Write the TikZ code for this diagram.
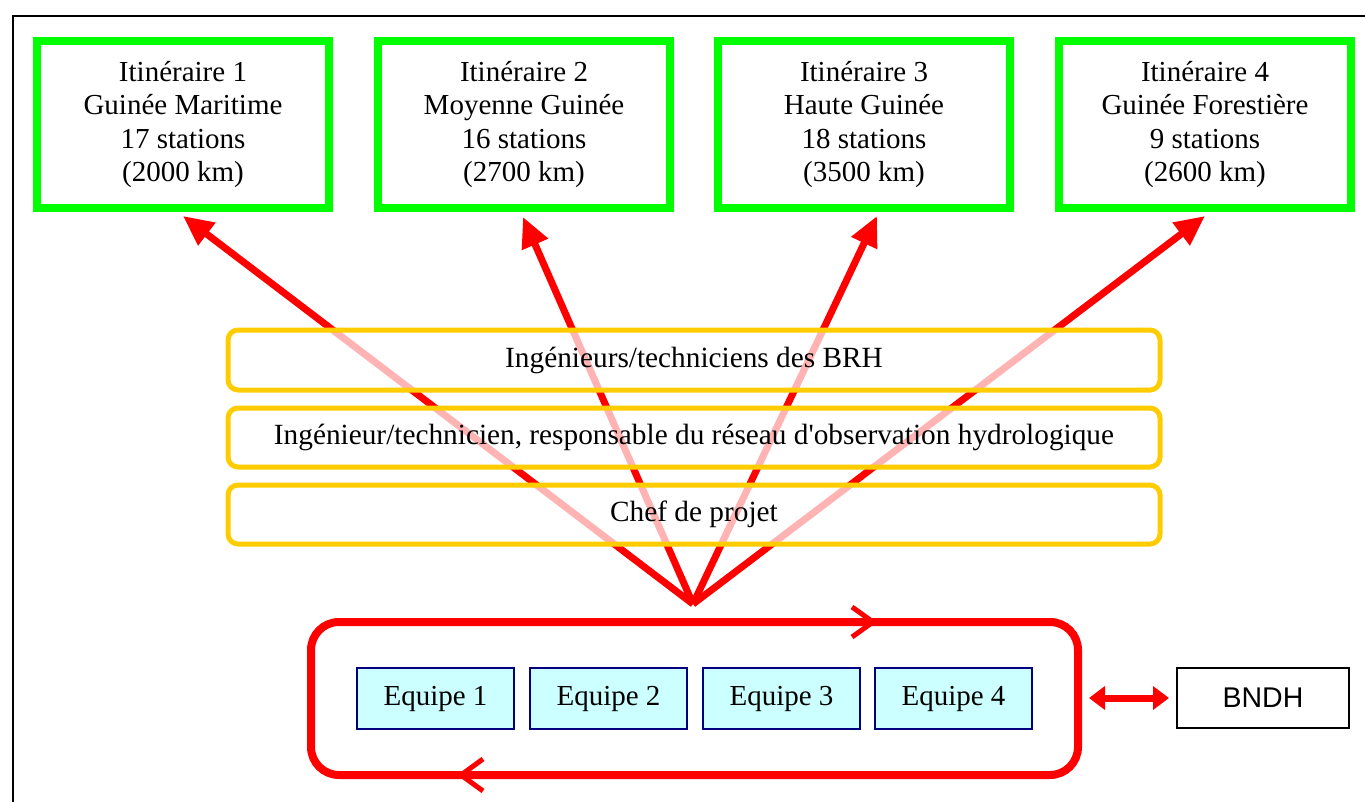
\documentclass[tikz,border=0pt]{standalone}
\usepackage{fontspec}
\setmainfont{Liberation Serif}
\newfontfamily\arialf{Liberation Sans}
\usetikzlibrary{arrows.meta}
\definecolor{vgreen}{RGB}{0,255,0}
\definecolor{vyellow}{RGB}{255,204,0}
\definecolor{vred}{RGB}{255,0,0}
\definecolor{vcyan}{RGB}{204,255,255}
\definecolor{vnavy}{RGB}{0,0,128}
\tikzset{
  itin/.style={draw=vgreen, line width=8pt, minimum width=292pt, minimum height=167pt, inner sep=0pt, align=center, font=\fontsize{29}{33.5}\selectfont},
  role/.style={draw=vyellow, line width=5pt, rounded corners=10pt, fill=white, fill opacity=0.7, text opacity=1, minimum width=932pt, inner sep=0pt, font=\fontsize{29.3}{33}\selectfont},
  team/.style={draw=vnavy, fill=vcyan, line width=2pt, minimum width=157pt, minimum height=61pt, inner sep=0pt, font=\fontsize{29}{33}\selectfont},
  bndh/.style={draw=black, line width=2pt, minimum width=172pt, minimum height=60pt, inner sep=0pt, font=\arialf\fontsize{28.5}{33}\selectfont},
  redarrow/.style={draw=vred, line width=7pt, -{Triangle[length=30pt,width=27pt]}},
  loopbox/.style={draw=vred, line width=8pt, rounded corners=28pt, minimum width=767pt, minimum height=153pt, inner sep=0pt},
  chev/.style={draw=vred, line width=5pt},
  dblarrow/.style={draw=vred, line width=7pt, {Triangle[length=16pt,width=23pt]}-{Triangle[length=16pt,width=23pt]}}
}
\begin{document}
\begin{tikzpicture}[x=1pt,y=-1pt]
\useasboundingbox (0,0) rectangle (1365,802);
\clip (0,0) rectangle (1365,802);
\draw[line width=2pt] (13,16) rectangle (1420,860);

% itineraries
\node[itin] (it1) at (183,124.5) {Itinéraire 1\\Guinée Maritime\\17 stations\\(2000 km)};
\node[itin] (it2) at (524,124.5) {Itinéraire 2\\Moyenne Guinée\\16 stations\\(2700 km)};
\node[itin] (it3) at (864,124.5) {Itinéraire 3\\Haute Guinée\\18 stations\\(3500 km)};
\node[itin] (it4) at (1205,124.5) {Itinéraire 4\\Guinée Forestière\\9 stations\\(2600 km)};

% arrows
\coordinate (o) at (693,604);
\coordinate (t1) at (183,216);
\coordinate (t2) at (523,217);
\coordinate (t3) at (877,216);
\coordinate (t4) at (1205,216);
\draw[redarrow] (o) -- (t1);
\draw[redarrow] (o) -- (t2);
\draw[redarrow] (o) -- (t3);
\draw[redarrow] (o) -- (t4);

% roles
\node[role, minimum height=60pt] (r1) at (694,360) {\raisebox{-3pt}{Ingénieurs/techniciens des BRH}};
\node[role, minimum height=59pt] (r2) at (694,437.5) {\raisebox{-2pt}{Ingénieur/technicien, responsable du réseau d\textquotesingle observation hydrologique}};
\node[role, minimum height=59pt] (r3) at (694,514.5) {\raisebox{-2pt}{Chef de projet}};

% loop
\node[loopbox] (loop) at (694.5,698.5) {};
\draw[chev] (852,607) -- (873,622) -- (852,637);
\draw[chev] (483,759) -- (461,775) -- (483,791);

% teams
\node[team] (e1) at (435.5,698.5) {\raisebox{-3pt}{Equipe 1}};
\node[team] (e2) at (608.5,698.5) {\raisebox{-3pt}{Equipe 2}};
\node[team] (e3) at (781.5,698.5) {\raisebox{-3pt}{Equipe 3}};
\node[team] (e4) at (953.5,698.5) {\raisebox{-3pt}{Equipe 4}};

% BNDH
\node[bndh] (b) at (1263,698) {BNDH};
\draw[dblarrow, shorten <=7pt, shorten >=7pt] (loop.east |- b.west) -- (b.west);
\end{tikzpicture}
\end{document}
